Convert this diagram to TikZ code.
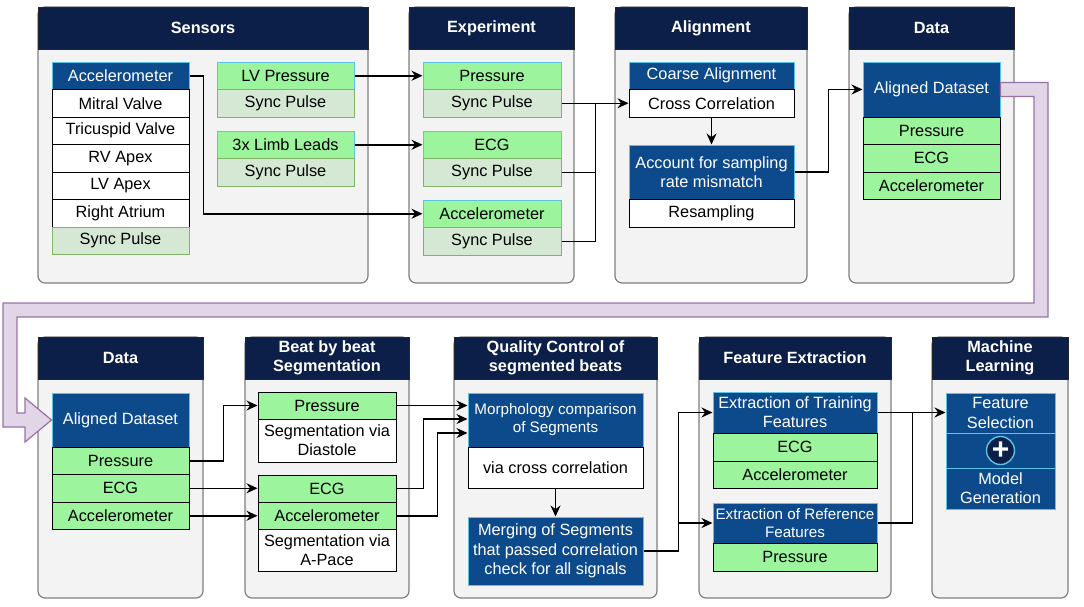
\documentclass[tikz,border=0pt]{standalone}
\usepackage{fontspec}
\setmainfont{Liberation Sans}
\usetikzlibrary{arrows.meta, calc}

\definecolor{hdblue}{HTML}{0B1F48}
\definecolor{boxblue}{HTML}{0D4A8B}
\definecolor{cyanline}{HTML}{5BC4E5}
\definecolor{brightgreen}{HTML}{9CF59C}
\definecolor{syncfill}{HTML}{D5E8D4}
\definecolor{syncline}{HTML}{82B366}
\definecolor{panelfill}{HTML}{F3F3F3}
\definecolor{panelgray}{HTML}{7F7F7F}
\definecolor{loopfill}{HTML}{E1D5E7}
\definecolor{loopline}{HTML}{9673A6}

\begin{document}
\begin{tikzpicture}[x=1pt, y=-1pt,
    font=\fontsize{16.3}{19.3}\selectfont,
    panel/.style={draw=panelgray, fill=panelfill, line width=1.2pt, rounded corners=7pt, inner sep=0pt},
    head/.style={draw=black!85, fill=hdblue, text=white, font=\fontsize{16.3}{19.3}\selectfont\bfseries,
        align=center, inner sep=0pt, line width=1pt},
    cell/.style={inner sep=0pt, align=center, line width=1pt},
    bluebox/.style={cell, draw=cyanline, fill=boxblue, text=white},
    greenbox/.style={cell, draw=black, fill=brightgreen},
    greency/.style={cell, draw=cyanline, fill=brightgreen},
    syncbox/.style={cell, draw=syncline, fill=syncfill},
    whitebox/.style={cell, draw=black, fill=white},
    tightfont/.style={font=\fontsize{15.2}{18}\selectfont},
    wire/.style={draw=black, line width=1.5pt},
    link/.style={wire, -{Stealth[length=11pt, width=10pt]}}]

    \useasboundingbox (0,0) rectangle (1084,606);

    % ---- top row: panels
    \node[panel, minimum width=330pt, minimum height=276pt] (sensP) at (203,145) {};
    \node[head, minimum width=330pt, minimum height=42pt] (sensH) at (203,28) {Sensors};
    \node[panel, minimum width=165pt, minimum height=276pt] (expP) at (491.5,145) {};
    \node[head, minimum width=165pt, minimum height=42pt] (expH) at (491.5,28) {Experiment};
    \node[panel, minimum width=192pt, minimum height=276pt] (alP) at (711,145) {};
    \node[head, minimum width=192pt, minimum height=42pt] (alH) at (711,28) {Alignment};
    \node[panel, minimum width=165pt, minimum height=276pt] (dataP) at (931.5,145) {};
    \node[head, minimum width=165pt, minimum height=42pt] (dataH) at (931.5,28) {Data};

    % ---- sensors
    \node[bluebox, minimum width=137pt, minimum height=27.5pt] (sAcc) at (120.5,75.75) {Accelerometer};
    \node[whitebox, minimum width=137pt, minimum height=27.5pt] (sMit) at (120.5,103.25) {Mitral Valve};
    \node[whitebox, minimum width=137pt, minimum height=27.5pt] (sTri) at (120.5,130.75) {Tricuspid Valve};
    \node[whitebox, minimum width=137pt, minimum height=27.5pt] (sRV) at (120.5,158.25) {RV Apex};
    \node[whitebox, minimum width=137pt, minimum height=27.5pt] (sLV) at (120.5,185.75) {LV Apex};
    \node[whitebox, minimum width=137pt, minimum height=27.5pt] (sRA) at (120.5,213.25) {Right Atrium};
    \node[syncbox, minimum width=137pt, minimum height=27.5pt] (sSync) at (120.5,240.75) {Sync Pulse};
    \node[greency, minimum width=137pt, minimum height=27.5pt] (sLVP) at (285.5,75.75) {LV Pressure};
    \node[syncbox, minimum width=137pt, minimum height=27.5pt] (sSy1) at (285.5,103.25) {Sync Pulse};
    \node[greency, minimum width=137pt, minimum height=27.5pt] (sLimb) at (285.5,144.75) {3x Limb Leads};
    \node[syncbox, minimum width=137pt, minimum height=27.5pt] (sSy2) at (285.5,172.25) {Sync Pulse};

    % ---- experiment
    \node[greency, minimum width=138pt, minimum height=27.5pt] (ePr) at (492,75.75) {Pressure};
    \node[syncbox, minimum width=138pt, minimum height=27.5pt] (eSy1) at (492,103.25) {Sync Pulse};
    \node[greency, minimum width=138pt, minimum height=27.5pt] (eEcg) at (492,144.75) {ECG};
    \node[syncbox, minimum width=138pt, minimum height=27.5pt] (eSy2) at (492,172.25) {Sync Pulse};
    \node[greency, minimum width=138pt, minimum height=27.5pt] (eAcc) at (492,213.75) {Accelerometer};
    \node[syncbox, minimum width=138pt, minimum height=27.5pt] (eSy3) at (492,241.25) {Sync Pulse};

    % ---- alignment
    \node[bluebox, minimum width=165pt, minimum height=27.5pt] (aCoarse) at (711.5,75.75) {Coarse Alignment};
    \node[whitebox, minimum width=165pt, minimum height=27.5pt] (aCross) at (711.5,103.25) {Cross Correlation};
    \node[bluebox, minimum width=165pt, minimum height=54pt] (aAcct) at (711.5,172) {Account for sampling\\rate mismatch};
    \node[whitebox, minimum width=165pt, minimum height=28pt] (aRes) at (711.5,213) {Resampling};

    % ---- data
    \node[bluebox, minimum width=137pt, minimum height=55pt] (dAds) at (931.5,89.5) {Aligned Dataset};
    \node[greenbox, minimum width=137pt, minimum height=27.5pt] (dPr) at (931.5,130.75) {Pressure};
    \node[greenbox, minimum width=137pt, minimum height=27.5pt] (dEcg) at (931.5,158.25) {ECG};
    \node[greenbox, minimum width=137pt, minimum height=27.5pt] (dAcc) at (931.5,185.75) {Accelerometer};

    % ---- bottom row: panels
    \node[panel, minimum width=165pt, minimum height=261pt] (data2P) at (120.5,467.5) {};
    \node[head, minimum width=165pt, minimum height=42pt] (data2H) at (120.5,358) {Data};
    \node[panel, minimum width=164pt, minimum height=261pt] (beatP) at (327,467.5) {};
    \node[head, minimum width=164pt, minimum height=42pt] (beatH) at (327,358) {Beat by beat\\Segmentation};
    \node[panel, minimum width=203pt, minimum height=261pt] (qcP) at (555.5,467.5) {};
    \node[head, minimum width=203pt, minimum height=42pt] (qcH) at (555.5,358) {Quality Control of\\segmented beats};
    \node[panel, minimum width=192pt, minimum height=261pt] (feP) at (795,467.5) {};
    \node[head, minimum width=192pt, minimum height=42pt] (feH) at (795,358) {Feature Extraction};
    \node[panel, minimum width=136pt, minimum height=261pt] (mlP) at (1000,467.5) {};
    \node[head, minimum width=136pt, minimum height=42pt] (mlH) at (1000,358) {Machine\\Learning};

    % ---- data (bottom)
    \node[bluebox, minimum width=137pt, minimum height=54pt] (d2Ads) at (120.5,420) {Aligned Dataset};
    \node[greenbox, minimum width=137pt, minimum height=27.5pt] (d2Pr) at (120.5,460.75) {Pressure};
    \node[greenbox, minimum width=137pt, minimum height=27.5pt] (d2Ecg) at (120.5,488.25) {ECG};
    \node[greenbox, minimum width=137pt, minimum height=27.5pt] (d2Acc) at (120.5,515.75) {Accelerometer};

    % ---- beat by beat
    \node[greenbox, minimum width=138pt, minimum height=27pt] (bPr) at (327,405.5) {Pressure};
    \node[whitebox, minimum width=138pt, minimum height=43pt] (bDia) at (327,440.5) {Segmentation via\\Diastole};
    \node[greenbox, minimum width=138pt, minimum height=27pt] (bEcg) at (327,488.5) {ECG};
    \node[greenbox, minimum width=138pt, minimum height=27.5pt] (bAcc) at (327,515.75) {Accelerometer};
    \node[whitebox, minimum width=138pt, minimum height=41.5pt] (bApace) at (327,550.25) {Segmentation via\\A-Pace};

    % ---- quality control
    \node[bluebox, tightfont, minimum width=175pt, minimum height=54pt] (qMorph) at (555.5,420) {Morphology comparison\\of Segments};
    \node[whitebox, minimum width=175pt, minimum height=41pt] (qVia) at (555.5,467.5) {via cross correlation};
    \node[bluebox, minimum width=175pt, minimum height=68pt] (qMerge) at (555.5,551) {Merging of Segments\\that passed correlation\\check for all signals};

    % ---- feature extraction
    \node[bluebox, minimum width=164pt, minimum height=41pt] (fTrain) at (795,412.5) {Extraction of Training\\Features};
    \node[greenbox, minimum width=164pt, minimum height=28pt] (fEcg) at (795,447) {ECG};
    \node[greenbox, minimum width=164pt, minimum height=27pt] (fAcc) at (795,474.5) {Accelerometer};
    \node[bluebox, tightfont, minimum width=164pt, minimum height=40pt] (fRef) at (795,523) {Extraction of Reference\\Features};
    \node[greenbox, minimum width=164pt, minimum height=28pt] (fPr) at (795,557) {Pressure};

    % ---- machine learning
    \node[bluebox, minimum width=109pt, minimum height=40pt] (mSel) at (1000.5,413) {Feature\\Selection};
    \node[bluebox, minimum width=109pt, minimum height=35pt] (mPlus) at (1000.5,450.5) {};
    \node[bluebox, minimum width=109pt, minimum height=41pt] (mGen) at (1000.5,488.5) {Model\\Generation};
    \node[circle, draw=cyanline, fill=hdblue, line width=1.4pt, minimum size=28pt, inner sep=0pt,
        text=white, font=\fontsize{30}{30}\selectfont\bfseries] (mCirc) at (mPlus) {+};

    % ---- connectors, top row
    \draw[link] (sLVP.east) -- (ePr.west);
    \draw[link] (sLimb.east) -- (eEcg.west);
    \draw[link] (sAcc.east) -- ++(14,0) |- (eAcc.west);
    \coordinate (jSync) at ($(eSy1.east)+(34,0)$);
    \draw[link] (eSy1.east) -- (aCross.west);
    \draw[wire] (eSy2.east) -| (jSync);
    \draw[wire] (eSy3.east) -| (jSync);
    \draw[link] (aCross) -- (aAcct);
    \draw[link] (aAcct.east) -- ++(34,0) |- (dAds.west);

    % ---- loop back to the second row
    \fill[loopfill, draw=loopline, line width=1.2pt]
        ($(dAds.east)+(0,-7)$) -- (1048,82.5) -- (1048,317) -- (17,317) -- (17,413)
        -- (25,413) -- (25,398) -- (d2Ads.west) -- (25,442) -- (25,427) -- (3,427)
        -- (3,303) -- (1034,303) -- (1034,96.5) -- ($(dAds.east)+(0,7)$) -- cycle;

    % ---- connectors, bottom row
    \draw[link] (d2Pr.east) -- ++(34,0) |- (bPr.west);
    \draw[link] (d2Ecg.east) -- (d2Ecg.east -| bEcg.west);
    \draw[link] (d2Acc.east) -- (d2Acc.east -| bAcc.west);
    \draw[link] (bPr.east) -- (bPr.east -| qMorph.west);
    \draw[link] (bEcg.east) -- ++(27,0) |- ($(qMorph.west)+(0,-1)$);
    \draw[link] (bAcc.east) -- ++(41,0) |- ($(qMorph.west)+(0,13)$);
    \draw[link] (qVia) -- (qMerge);
    \coordinate (jMerge) at ($(qMerge.east)+(35,0)$);
    \draw[link] (qMerge.east) -- (jMerge) |- (fTrain.west);
    \draw[link] (jMerge) |- (fRef.west);
    \draw[link] (fTrain.east) -- (fTrain.east -| mSel.west);
    \draw[wire] (fRef.east) -| ($(fTrain.east)+(35,0)$);
\end{tikzpicture}
\end{document}
